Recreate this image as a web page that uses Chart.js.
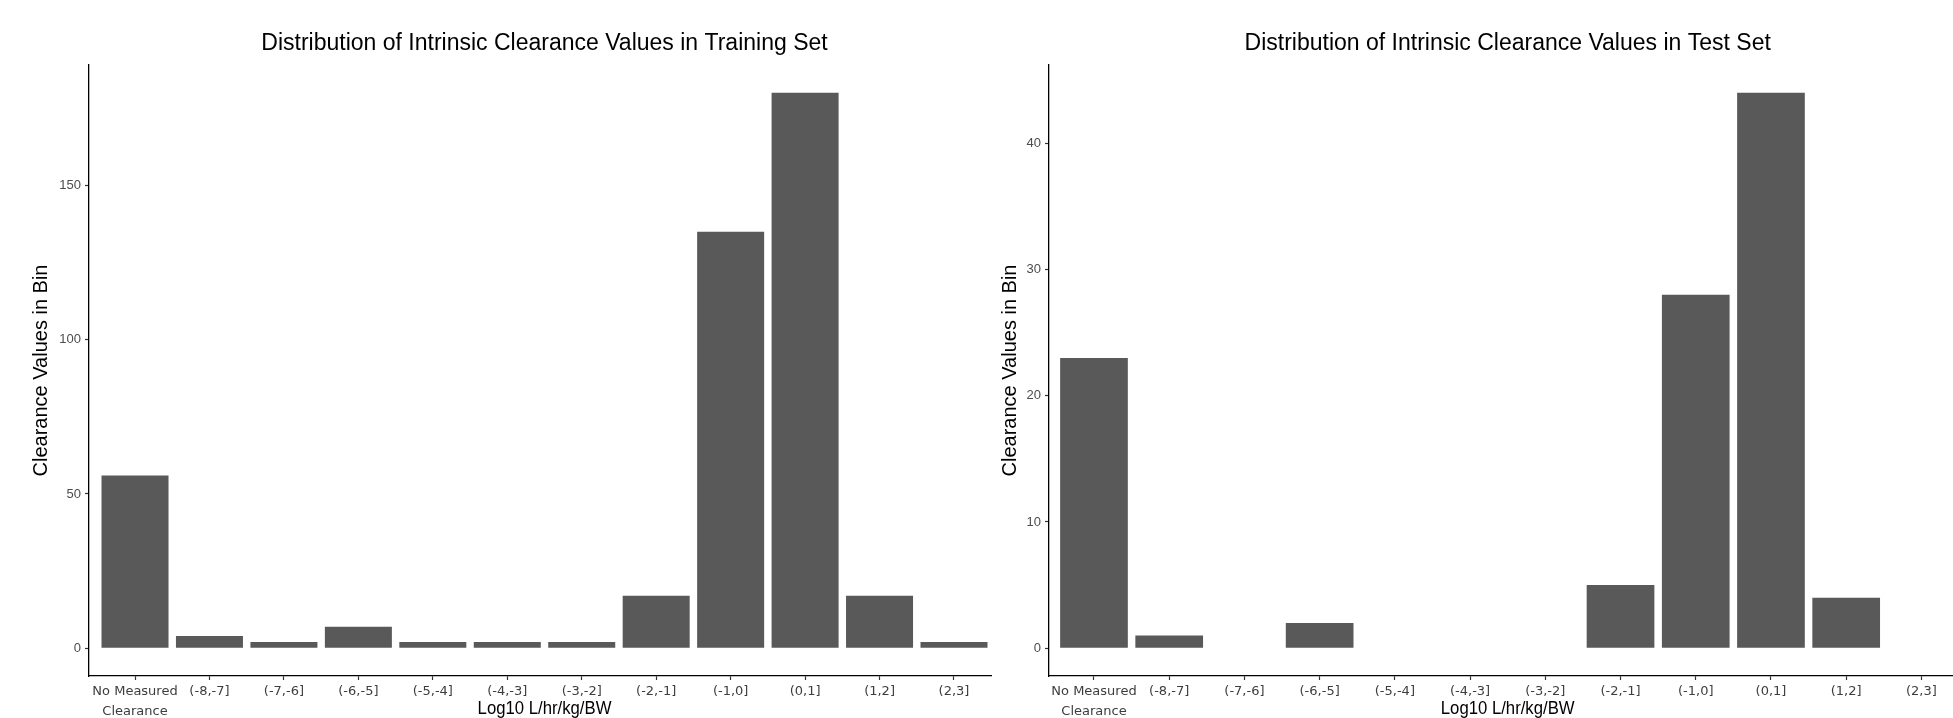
<!DOCTYPE html>
<html>
<head>
<meta charset="utf-8">
<script src="https://cdn.jsdelivr.net/npm/chart.js@4.4.1/dist/chart.umd.min.js"></script>
<style>
  body { margin: 0; background: #fff; overflow: hidden; width: 1953px; height: 718px; position: relative; }
  canvas { position: absolute; top: 0; }
  #trainChart { left: 0; }
  #testChart { left: 960px; }
</style>
</head>
<body>
<canvas id="trainChart" width="1000" height="718"></canvas>
<canvas id="testChart" width="993" height="718"></canvas>
<script>
// bins on the log10 L/hr/kg/BW scale
const binLabels = [["No Measured", "Clearance"], "(-8,-7]", "(-7,-6]", "(-6,-5]", "(-5,-4]", "(-4,-3]", "(-3,-2]", "(-2,-1]", "(-1,0]", "(0,1]", "(1,2]", "(2,3]"];
const trainCounts = [56, 4, 2, 7, 2, 2, 2, 17, 135, 180, 17, 2];
const testCounts = [23, 1, 0, 2, 0, 0, 0, 5, 28, 44, 4, 0];
const trainTicks = [0, 50, 100, 150];
const testTicks = [0, 10, 20, 30, 40];

const titlesPlugin = {
  id: "titles",
  afterDraw(chart, args, opts) {
    const ctx = chart.ctx;
    const area = chart.chartArea;
    const mid = chart.scales.x.getPixelForValue(5.5);
    ctx.save();
    ctx.fillStyle = "#000";
    ctx.textAlign = "center";
    ctx.textBaseline = "middle";
    ctx.font = '23px "Liberation Sans", Arial, sans-serif';
    ctx.fillText(opts.title, mid, 44);

    // x title is a bit condensed in the original
    ctx.save();
    ctx.translate(mid, 709);
    ctx.scale(0.88, 1);
    ctx.font = '19px "Liberation Sans", Arial, sans-serif';
    ctx.fillText("Log10 L/hr/kg/BW", 0, 0);
    ctx.restore();

    ctx.translate(opts.yTitleX, (area.top + area.bottom) / 2);
    ctx.rotate(-Math.PI / 2);
    ctx.font = '20px "Liberation Sans", Arial, sans-serif';
    ctx.fillText("Clearance Values in Bin", 0, 0);
    ctx.restore();
  },
};

function makeChart(id, counts, yTicks, yMin, yMax, xMin, xMax, title, yTitleX, padRight) {
  return new Chart(document.getElementById(id), {
    type: "bar",
    data: {
      datasets: [
        {
          data: counts.map((v, i) => ({ x: i, y: v })),
          backgroundColor: "#595959",
          borderWidth: 0,
          categoryPercentage: 0.9,
          barPercentage: 1,
        },
      ],
    },
    options: {
      responsive: false,
      animation: false,
      layout: { padding: { top: 65, bottom: 0, left: 0, right: padRight } },
      plugins: {
        legend: { display: false },
        tooltip: { enabled: false },
        titles: { title: title, yTitleX: yTitleX },
      },
      scales: {
        x: {
          type: "linear",
          min: xMin,
          max: xMax,
          offset: false,
          afterBuildTicks: (axis) => {
            axis.ticks = binLabels.map((_, i) => ({ value: i }));
          },
          afterFit: (axis) => {
            axis.height = 42;
          },
          grid: { offset: false, drawOnChartArea: false, drawTicks: true, tickLength: 4, tickColor: "#333", tickWidth: 1.2 },
          border: { display: true, color: "#000", width: 1.3 },
          ticks: {
            autoSkip: false,
            maxRotation: 0,
            padding: 2,
            color: "#3d3d3d",
            font: { family: '"DejaVu Sans", sans-serif', size: 13, lineHeight: "20px" },
            callback: (v) => binLabels[v],
          },
        },
        y: {
          min: yMin,
          max: yMax,
          afterBuildTicks: (axis) => {
            axis.ticks = yTicks.map((v) => ({ value: v }));
          },
          afterFit: (axis) => {
            axis.width = 89;
          },
          grid: { drawOnChartArea: false, drawTicks: true, tickLength: 4, tickColor: "#333", tickWidth: 1.2 },
          border: { display: true, color: "#000", width: 1.3 },
          ticks: {
            padding: 4,
            color: "#4d4d4d",
            font: { family: '"Liberation Sans", Arial, sans-serif', size: 13 },
          },
        },
      },
    },
    plugins: [titlesPlugin],
  });
}

makeChart("trainChart", trainCounts, trainTicks, -9, 189, -0.618, 11.497,
  "Distribution of Intrinsic Clearance Values in Training Set", 41, 9);
makeChart("testChart", testCounts, testTicks, -2.2, 46.2, -0.598, 11.42,
  "Distribution of Intrinsic Clearance Values in Test Set", 50, 0);
</script>
</body>
</html>
